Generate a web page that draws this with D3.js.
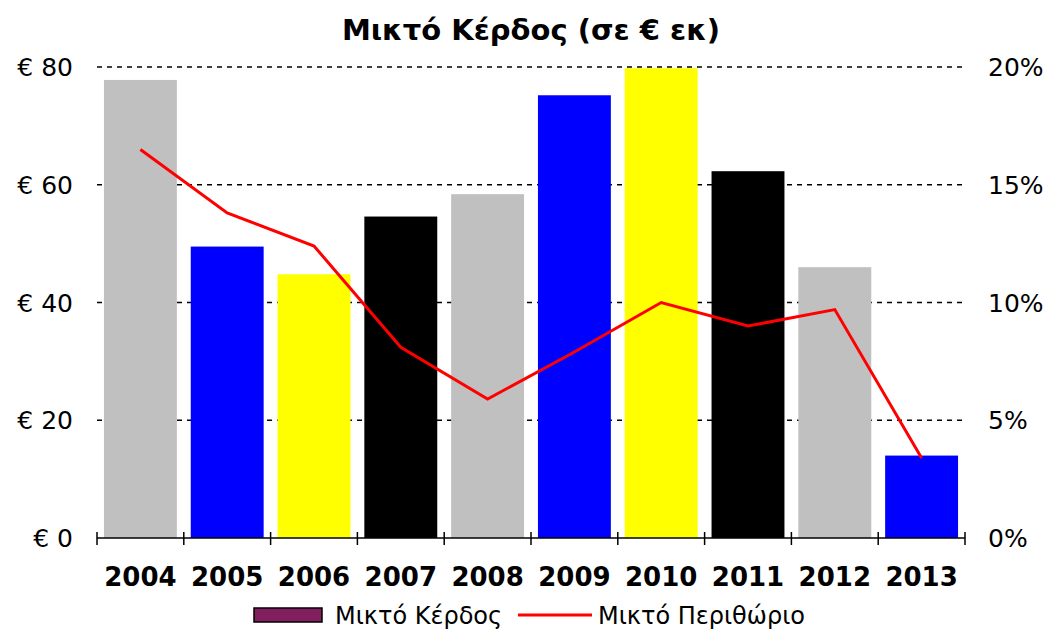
<!DOCTYPE html>
<html>
<head>
<meta charset="utf-8">
<script src="https://cdn.jsdelivr.net/npm/d3@7"></script>
<style>
  body { margin: 0; background: #fff; }
  text { font-family: "DejaVu Sans", Verdana, sans-serif; }
</style>
</head>
<body>
<svg id="chart" width="1051" height="630"></svg>
<script>
// data
const years = ['2004', '2005', '2006', '2007', '2008', '2009', '2010', '2011', '2012', '2013'];
const grossProfit = [77.8, 49.5, 44.8, 54.6, 58.4, 75.2, 79.8, 62.3, 46.0, 14.0];
const grossMargin = [16.5, 13.8, 12.4, 8.1, 5.9, 7.9, 10.0, 9.0, 9.7, 3.4];
const barColors = ['#c0c0c0', '#0000ff', '#ffff00', '#000000'];
const leftTicks = [0, 20, 40, 60, 80];
const rightTicks = [0, 5, 10, 15, 20];

let svg = d3.select('#chart')

const plotLeft = 97, plotRight = 965, plotTop = 67, plotBottom = 538;

let x = d3.scaleBand().domain(years).range([plotLeft, plotRight]).paddingInner(0.16).paddingOuter(0.08)
let y = d3.scaleLinear().domain([0, 80]).range([plotBottom, plotTop])
let y2 = d3.scaleLinear().domain([0, 20]).range([plotBottom, plotTop])

// title
svg.append('text')
    .attr('x', 531).attr('y', 40)
    .attr('text-anchor', 'middle')
    .style('font-size', '29px').style('font-weight', 'bold')
    .text('Μικτό Κέρδος (σε € εκ)')

// dashed gridlines, behind the bars
svg.append('g')
    .selectAll('line')
    .data(leftTicks.filter(d => d > 0))
    .enter()
    .append('line')
    .attr('x1', plotLeft).attr('x2', plotRight)
    .attr('y1', d => y(d)).attr('y2', d => y(d))
    .attr('stroke', '#000').attr('stroke-width', 1.3)
    .attr('stroke-dasharray', '5,5')

// bars
svg.append('g')
    .selectAll('rect')
    .data(grossProfit)
    .enter()
    .append('rect')
    .attr('x', (d, i) => x(years[i]))
    .attr('width', x.bandwidth())
    .attr('y', d => y(d))
    .attr('height', d => y(0) - y(d))
    .attr('fill', (d, i) => barColors[i % barColors.length])

// margin line
let line = d3.line()
    .x((d, i) => x(years[i]) + x.bandwidth() / 2)
    .y(d => y2(d))

svg.append('path')
    .datum(grossMargin)
    .attr('d', line)
    .attr('fill', 'none')
    .attr('stroke', '#ff0000')
    .attr('stroke-width', 3)

// x axis with ticks between categories
let xAxis = svg.append('g')
xAxis.append('line')
    .attr('x1', plotLeft).attr('x2', plotRight)
    .attr('y1', plotBottom).attr('y2', plotBottom)
    .attr('stroke', '#000').attr('stroke-width', 1.5)
xAxis.selectAll('line.tick')
    .data(d3.range(years.length + 1))
    .enter()
    .append('line')
    .attr('class', 'tick')
    .attr('x1', i => plotLeft + i * (plotRight - plotLeft) / years.length)
    .attr('x2', i => plotLeft + i * (plotRight - plotLeft) / years.length)
    .attr('y1', plotBottom - 6).attr('y2', plotBottom + 7)
    .attr('stroke', '#000').attr('stroke-width', 1.5)
xAxis.selectAll('text')
    .data(years)
    .enter()
    .append('text')
    .attr('x', d => x(d) + x.bandwidth() / 2)
    .attr('y', 586)
    .attr('text-anchor', 'middle')
    .style('font-size', '26px').style('font-weight', 'bold')
    .text(d => d)

// left axis labels
svg.append('g')
    .selectAll('text')
    .data(leftTicks)
    .enter()
    .append('text')
    .attr('x', 73)
    .attr('y', d => y(d) + 9)
    .attr('text-anchor', 'end')
    .style('font-size', '25px')
    .text(d => '€ ' + d)

// right axis labels
svg.append('g')
    .selectAll('text')
    .data(rightTicks)
    .enter()
    .append('text')
    .attr('x', 988)
    .attr('y', d => y2(d) + 9)
    .style('font-size', '25px')
    .text(d => d + '%')

// legend
let legend = svg.append('g')
legend.append('rect')
    .attr('x', 254).attr('y', 608).attr('width', 68).attr('height', 14)
    .attr('fill', '#82205f').attr('stroke', '#000').attr('stroke-width', 1.5)
legend.append('text')
    .attr('x', 335).attr('y', 624)
    .style('font-size', '24px')
    .text('Μικτό Κέρδος')
legend.append('line')
    .attr('x1', 518).attr('x2', 592).attr('y1', 615).attr('y2', 615)
    .attr('stroke', '#ff0000').attr('stroke-width', 3)
legend.append('text')
    .attr('x', 598).attr('y', 624)
    .style('font-size', '24px')
    .text('Μικτό Περιθώριο')
</script>
</body>
</html>
